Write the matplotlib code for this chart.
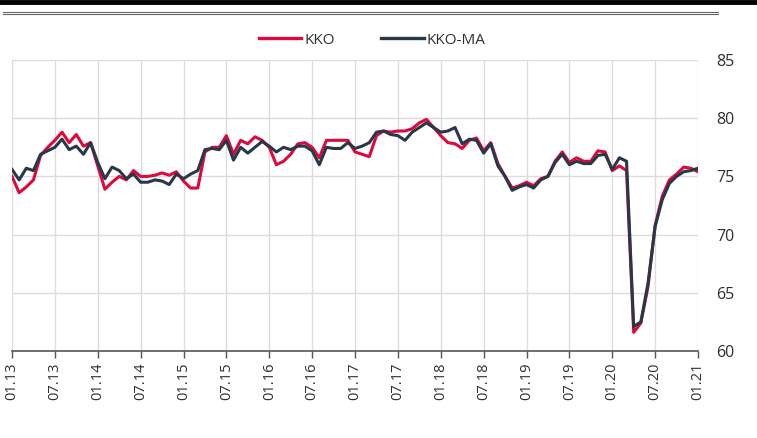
import matplotlib
matplotlib.use("Agg")
import matplotlib.pyplot as plt
from matplotlib.lines import Line2D

plt.rcParams['font.family'] = ['Liberation Sans Narrow', 'Open Sans', 'DejaVu Sans']

# monthly values, 01.2013 .. 01.2021
kko = [75.0, 73.6, 74.1, 74.7, 76.8, 77.5, 78.1, 78.8, 77.9, 78.6, 77.6, 77.9,
       75.9, 73.9, 74.5, 75.0, 74.7, 75.5, 75.0, 75.0, 75.1, 75.3, 75.1, 75.4,
       74.6, 74.0, 74.0, 77.1, 77.5, 77.5, 78.5, 76.9, 78.1, 77.8, 78.4, 78.1,
       77.5, 76.0, 76.3, 76.9, 77.8, 77.9, 77.5, 76.6, 78.1, 78.1, 78.1, 78.1,
       77.1, 76.9, 76.7, 78.5, 78.9, 78.8, 78.9, 78.9, 79.1, 79.6, 79.9, 79.2,
       78.5, 77.9, 77.8, 77.4, 78.1, 78.3, 77.2, 77.9, 76.1, 75.0, 74.0, 74.2,
       74.5, 74.2, 74.8, 75.0, 76.3, 77.1, 76.2, 76.6, 76.3, 76.3, 77.2, 77.1,
       75.5, 75.9, 75.5, 61.6, 62.4, 65.5, 70.8, 73.3, 74.7, 75.2, 75.8, 75.7,
       75.4]
kko_ma = [75.6, 74.7, 75.7, 75.5, 76.9, 77.2, 77.5, 78.2, 77.3, 77.6, 76.9, 77.9,
          76.2, 74.8, 75.8, 75.5, 74.8, 75.2, 74.5, 74.5, 74.7, 74.6, 74.3, 75.2,
          74.8, 75.2, 75.5, 77.3, 77.4, 77.3, 78.1, 76.4, 77.5, 77.0, 77.5, 78.0,
          77.6, 77.1, 77.5, 77.3, 77.6, 77.6, 77.2, 76.0, 77.5, 77.4, 77.4, 77.9,
          77.4, 77.6, 77.9, 78.8, 78.9, 78.6, 78.5, 78.1, 78.8, 79.2, 79.6, 79.2,
          78.8, 78.9, 79.2, 77.8, 78.2, 78.1, 77.0, 77.8, 75.9, 75.0, 73.8, 74.1,
          74.3, 74.0, 74.7, 75.0, 76.2, 76.9, 76.0, 76.3, 76.1, 76.1, 76.8, 76.9,
          75.6, 76.6, 76.3, 62.1, 62.5, 65.8, 70.7, 73.0, 74.4, 75.0, 75.4, 75.5,
          75.7]
tick_labels = ['01.13', '07.13', '01.14', '07.14', '01.15', '07.15', '01.16', '07.16',
               '01.17', '07.17', '01.18', '07.18', '01.19', '07.19', '01.20', '07.20',
               '01.21']

red = '#dc0a3c'
dark = '#26384a'
grid_c = '#dcdcdc'
text_c = '#2e2e2e'

fig = plt.figure(figsize=(7.57, 4.38), dpi=100)
ax = fig.add_axes([12 / 757, 1 - 351 / 438, (698 - 12) / 757, (351 - 60) / 438])

months = list(range(len(kko)))
ax.plot(months, kko, color=red, lw=2.2, solid_joinstyle='round')
ax.plot(months, kko_ma, color=dark, lw=2.2, solid_joinstyle='round')

ax.set_xlim(0, 96)
ax.set_ylim(60, 85)
ax.set_xticks(range(0, 97, 6))
ax.set_xticklabels(tick_labels, rotation=90, fontsize=10.5, color=text_c)
ax.set_yticks([60, 65, 70, 75, 80, 85])
ax.yaxis.tick_right()
ax.tick_params(axis='y', length=0, pad=13, labelsize=11.5, labelcolor=text_c)
ax.tick_params(axis='x', length=5, width=1, color='#555555', pad=3)
ax.grid(True, color=grid_c, lw=1)
ax.set_axisbelow(True)
for side in ['left', 'right', 'top']:
    ax.spines[side].set_visible(False)
ax.spines['bottom'].set_color('#555555')
ax.spines['bottom'].set_linewidth(1.2)

handles = [Line2D([], [], color=red, lw=2.4), Line2D([], [], color=dark, lw=2.4)]
fig.legend(handles, ['KKO', 'KKO-MA'], loc='center', bbox_to_anchor=(372 / 757, 1 - 40 / 438),
           ncol=2, frameon=False, fontsize=11, handlelength=2.8, handletextpad=0.2,
           columnspacing=3.0, labelcolor=text_c)

# decorative lines on top
fig.add_artist(Line2D([0, 1], [1 - 1.5 / 438, 1 - 1.5 / 438], color='black', lw=3.5))
fig.add_artist(Line2D([3 / 757, 718 / 757], [1 - 11.5 / 438, 1 - 11.5 / 438], color='#666666', lw=0.8))
fig.add_artist(Line2D([3 / 757, 718 / 757], [1 - 13.5 / 438, 1 - 13.5 / 438], color='#666666', lw=0.8))

fig.savefig('out.png', dpi=100)
